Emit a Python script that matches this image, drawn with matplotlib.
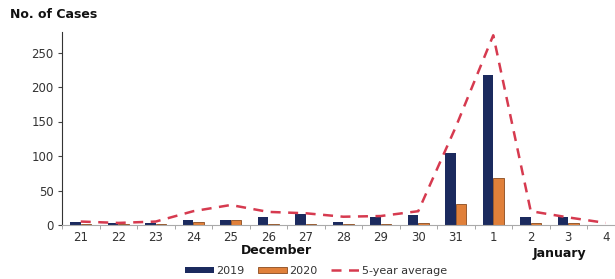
import matplotlib
matplotlib.use("Agg")
import matplotlib.pyplot as plt
import numpy as np

days = ["21", "22", "23", "24", "25", "26", "27", "28", "29", "30", "31", "1", "2", "3", "4"]
cases_2019 = [5, 3, 3, 7, 7, 11, 16, 5, 12, 15, 105, 217, 12, 11, 0]
cases_2020 = [1, 1, 2, 5, 7, 1, 2, 2, 1, 3, 30, 68, 3, 3, 0]
avg_5yr = [5, 3, 5, 20, 29, 19, 17, 12, 13, 20, 142, 275, 20, 11, 3]
yticks = [0, 50, 100, 150, 200, 250]

navy = "#1b2a5e"
orange = "#e0803a"
red = "#d63a4f"

fig = plt.figure(figsize=(6.15, 2.79), dpi=100)
ax = fig.add_axes([62/615, 54/279, 562.5/615, 193.2/279])

x = np.arange(len(days))
w = 0.28
b1 = ax.bar(x - w/2, cases_2019, width=w, color=navy, label="2019", zorder=2)
b2 = ax.bar(x + w/2, cases_2020, width=w, color=orange, edgecolor="#8a4a1e", linewidth=0.6, label="2020", zorder=2)
l1, = ax.plot(x, avg_5yr, color=red, linestyle=(0, (4, 3)), linewidth=1.8, label="5-year average", zorder=3)

ax.set_xlim(-0.5, len(days) - 0.5)
ax.set_ylim(0, 280)
ax.set_yticks(yticks)
ax.set_yticklabels([str(v) for v in yticks], fontsize=8.5, color="#333333")
ax.set_xticks(x)
ax.set_xticklabels(days, fontsize=8.5, color="#333333")
ax.tick_params(axis="x", which="major", length=0, pad=4)
ax.set_xticks(np.arange(len(days) + 1) - 0.5, minor=True)
ax.tick_params(axis="x", which="minor", length=3, color="#999999")
ax.tick_params(axis="y", length=3, color="#444444", pad=3)

for s in ["top", "right"]:
    ax.spines[s].set_visible(False)
ax.spines["left"].set_color("#333333")
ax.spines["bottom"].set_color("#aaaaaa")

fig.text(10/615, 1 - 15/279, "No. of Cases", fontsize=9, fontweight="bold", va="center", ha="left", color="#111111")
fig.text(276/615, 1 - 251/279, "December", fontsize=9, fontweight="bold", va="center", ha="center", color="#111111")
fig.text(559/615, 1 - 254/279, "January", fontsize=9, fontweight="bold", va="center", ha="center", color="#111111")

leg = fig.legend(handles=[b1, b2, l1], labels=["2019", "2020", "5-year average"],
                 loc="center", bbox_to_anchor=(316/615, 1 - 271/279), ncol=3, frameon=False,
                 fontsize=8, handlelength=2.6, handleheight=0.5, columnspacing=1.2, handletextpad=0.2,
                 labelcolor="#333333")

fig.savefig("out.png", dpi=100)
